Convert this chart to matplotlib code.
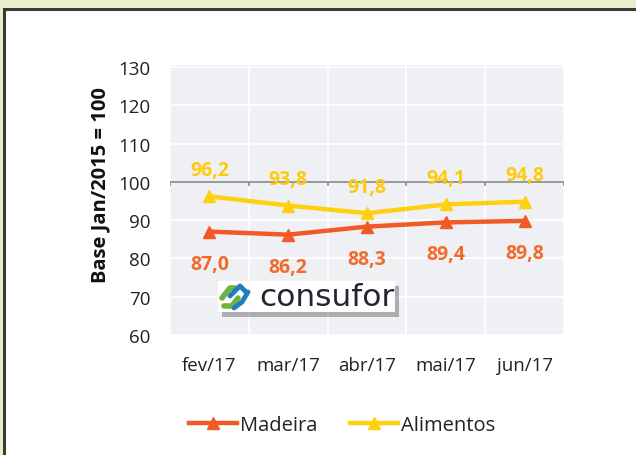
import matplotlib
matplotlib.use("Agg")
import matplotlib.pyplot as plt
from matplotlib.patches import Rectangle
from matplotlib.lines import Line2D

categories = ["fev/17", "mar/17", "abr/17", "mai/17", "jun/17"]
madeira = [87.0, 86.2, 88.3, 89.4, 89.8]
alimentos = [96.2, 93.8, 91.8, 94.1, 94.8]
madeira_labels = ["87,0", "86,2", "88,3", "89,4", "89,8"]
alimentos_labels = ["96,2", "93,8", "91,8", "94,1", "94,8"]
yticks = [60, 70, 80, 90, 100, 110, 120, 130]

plt.rcParams['font.family'] = ['Open Sans', 'DejaVu Sans']

W, H = 636, 456
fig = plt.figure(figsize=(W/100, H/100), dpi=100)
fig.patch.set_facecolor("#E8EDCB")

# white frame in a background axes
bg = fig.add_axes([0, 0, 1, 1], zorder=-5)
bg.set_xlim(0, W)
bg.set_ylim(H, 0)
bg.axis("off")
bg.add_patch(Rectangle((4, 10), W + 20, H + 20, facecolor="white", edgecolor="#3a3a3a", linewidth=2.2))

ax = fig.add_axes([170/W, 1 - 336/H, (564-170)/W, (336-66)/H], zorder=1)
ax.set_facecolor("#EFF0F3")
for s in ax.spines.values():
    s.set_visible(False)
ax.set_xlim(-0.5, 4.5)
ax.set_ylim(60, 130.5)
ax.set_yticks(yticks)
ax.set_xticks(range(len(categories)))
ax.set_xticklabels(categories)
ax.tick_params(axis='both', length=0, colors="#222222")
ax.tick_params(axis='x', pad=15, labelsize=13.5)
ax.tick_params(axis='y', pad=14, labelsize=13.5)
for y in yticks:
    if y != 100:
        ax.axhline(y, color="white", lw=1.2, zorder=1)
for xb in [i - 0.5 for i in range(len(categories) + 1)]:
    ax.axvline(xb, color="white", lw=1.2, zorder=1)
ax.axhline(100, color="#8a8a8a", lw=1.2, zorder=2)
ax.vlines([i - 0.5 for i in range(len(categories) + 1)], 99, 100, color="#8a8a8a", lw=1.2, zorder=2)

c_mad = "#F15A24"
c_ali = "#FFD011"
ax.plot(range(len(categories)), madeira, color=c_mad, lw=3.2, marker="^", markersize=9, zorder=4, label="Madeira")
ax.plot(range(len(categories)), alimentos, color=c_ali, lw=3.2, marker="^", markersize=9, zorder=4, label="Alimentos")
for i, (v, t) in enumerate(zip(madeira, madeira_labels)):
    ax.annotate(t, (i, v), xytext=(0, -23), textcoords="offset points", ha="center", va="center",
                color="#F26B2A", fontsize=14, fontweight="bold", zorder=5)
for i, (v, t) in enumerate(zip(alimentos, alimentos_labels)):
    ax.annotate(t, (i, v), xytext=(0, 19), textcoords="offset points", ha="center", va="center",
                color="#FFC90E", fontsize=14, fontweight="bold", zorder=5)

ax.set_ylabel("Base Jan/2015 = 100", fontsize=14.5, fontweight="bold", color="#111111")
ax.yaxis.set_label_coords(-60/394, 0.56)

leg = fig.legend(handles=[Line2D([], [], color=c_mad, lw=3.2, marker="^", markersize=9),
                          Line2D([], [], color=c_ali, lw=3.2, marker="^", markersize=9)],
                 labels=["Madeira", "Alimentos"], loc="center", bbox_to_anchor=(342/W, 1 - 426/H),
                 ncol=2, frameon=False, fontsize=14.5, handlelength=2.4, handletextpad=0.15,
                 columnspacing=1.6)
for t in leg.get_texts():
    t.set_color("#222222")

# logo
lax = fig.add_axes([218/W, 1 - 318/H, 182/W, 36/H], zorder=6)
lax.set_xlim(0, 182)
lax.set_ylim(0, 36)
lax.axis("off")
lax.add_patch(Rectangle((4, 0), 177, 31, facecolor="#777777", edgecolor="none", alpha=0.55))
lax.add_patch(Rectangle((0, 5), 177, 31, facecolor="white", edgecolor="none"))
lax.plot([4, 12, 18], [19, 29, 29], color="#6DB33F", lw=4, solid_capstyle="round")
lax.plot([6, 14, 20], [11, 11, 19], color="#6DB33F", lw=4, solid_capstyle="round")
lax.plot([12, 22, 28], [21, 31, 25], color="#1E7FC0", lw=3.5, solid_capstyle="round")
lax.plot([16, 24, 30], [9, 15, 25], color="#1E7FC0", lw=3.5, solid_capstyle="round")
lax.text(41, 20, "consufor", fontsize=22.5, color="#23252F", va="center", ha="left",
         family=["DejaVu Sans"])

fig.savefig("out.png", dpi=100, facecolor=fig.get_facecolor())
